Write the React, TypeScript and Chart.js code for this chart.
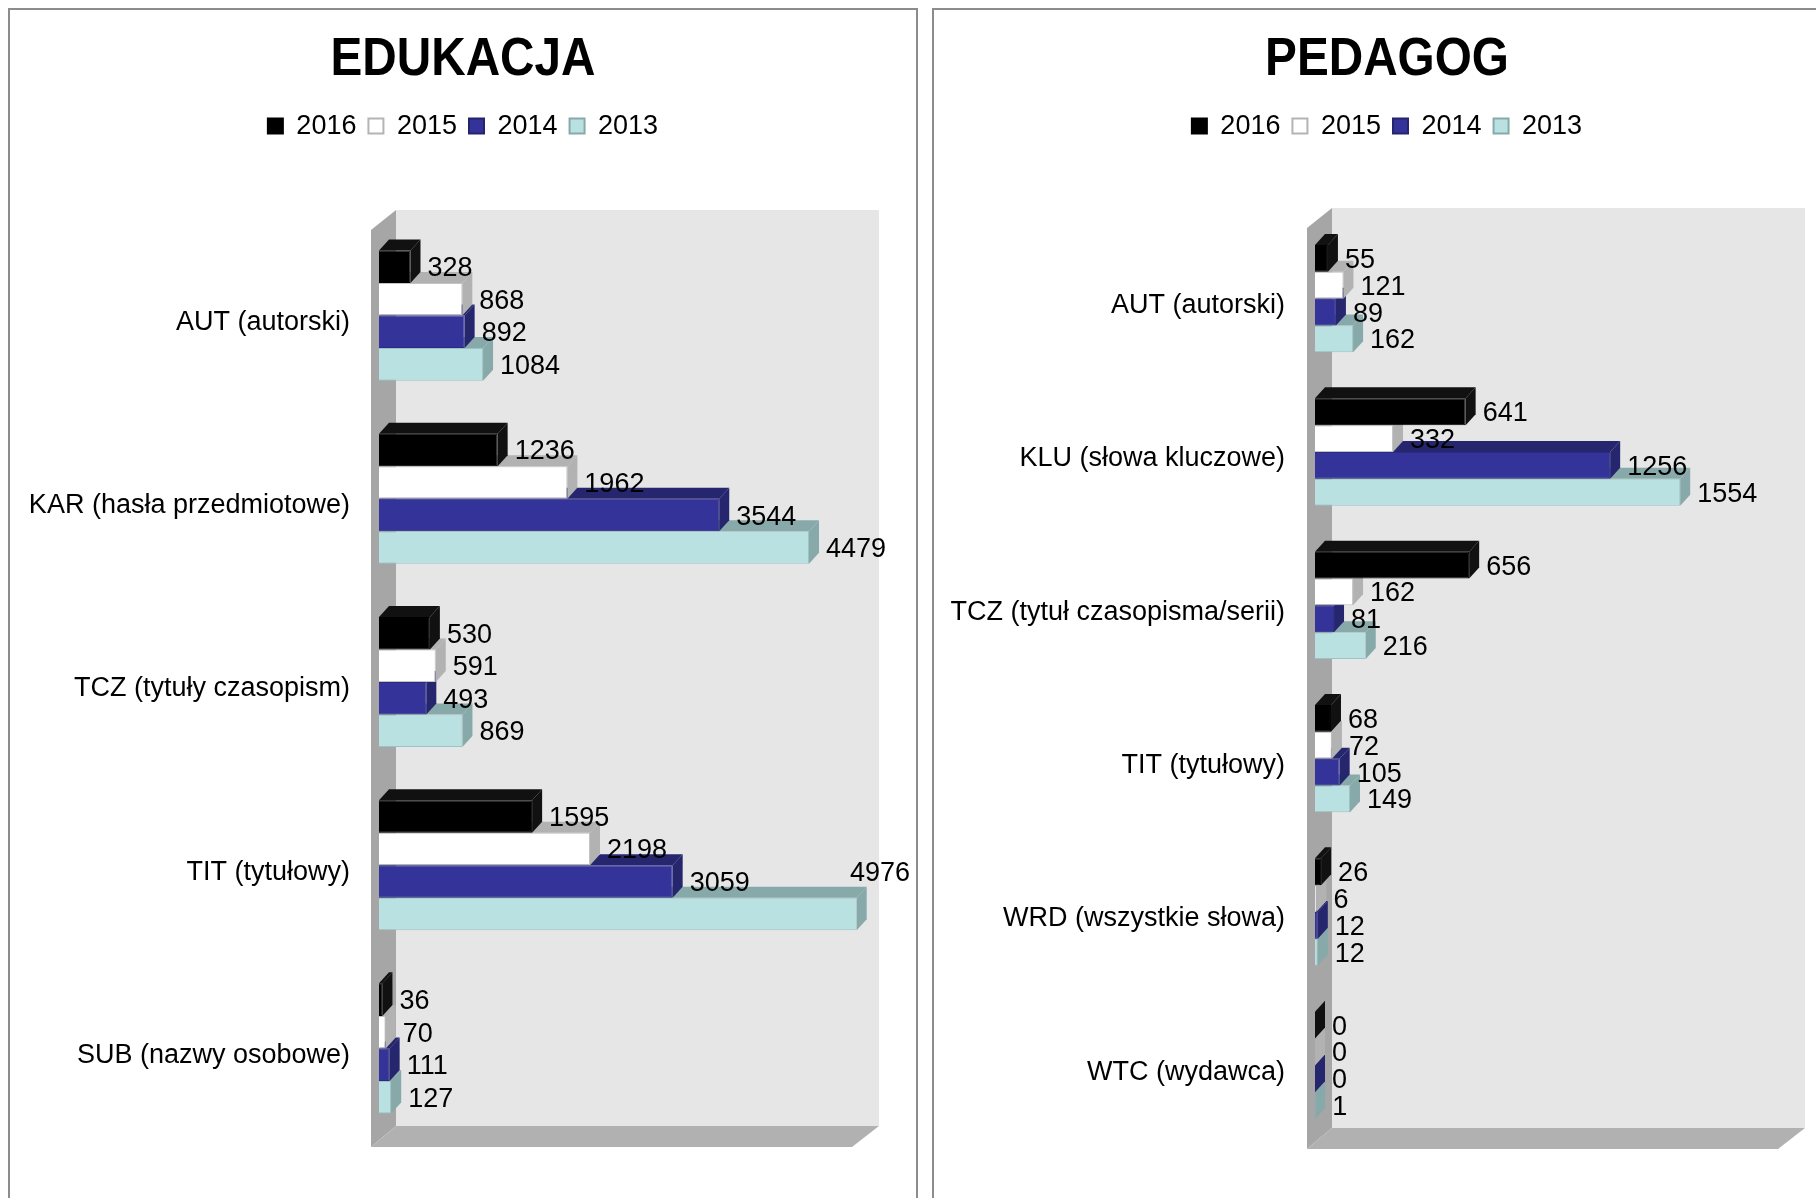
import React, { useEffect, useRef } from "react";
import { Chart, registerables } from "chart.js";

Chart.register(...registerables);

// ---------- data ----------
const seriesLabels = ["2016", "2015", "2014", "2013"];

const eduCategories = [
  "AUT (autorski)",
  "KAR (hasła przedmiotowe)",
  "TCZ (tytuły czasopism)",
  "TIT (tytułowy)",
  "SUB (nazwy osobowe)",
];
const edu2016 = [328, 1236, 530, 1595, 36];
const edu2015 = [868, 1962, 591, 2198, 70];
const edu2014 = [892, 3544, 493, 3059, 111];
const edu2013 = [1084, 4479, 869, 4976, 127];

const pedCategories = [
  "AUT (autorski)",
  "KLU (słowa kluczowe)",
  "TCZ (tytuł czasopisma/serii)",
  "TIT (tytułowy)",
  "WRD (wszystkie słowa)",
  "WTC (wydawca)",
];
const ped2016 = [55, 641, 656, 68, 26, 0];
const ped2015 = [121, 332, 162, 72, 6, 0];
const ped2014 = [89, 1256, 81, 105, 12, 0];
const ped2013 = [162, 1554, 216, 149, 12, 1];

// ---------- styles ----------
const FONT = '"Liberation Sans", Arial, Helvetica, sans-serif';
const TXT = 27;
const frontColors = ["#000000", "#ffffff", "#333399", "#b9e1e1"];
const faceColors = ["#111111", "#b2b2b2", "#26266f", "#88a9a9"];
const borderColors = ["#000000", "#c4c4c4", "#2b2b85", "#9cc3c3"];
const legendBorders = ["#000000", "#b4b4b4", "#25256e", "#88a9a9"];

const BAR_DX = 10;
const BAR_DY = 11;

const threeD = {
  id: "threeD",
  beforeDatasetsDraw(chart: any) {
    const { ctx } = chart;
    const { left: L, top: T, right: R, bottom: B } = chart.chartArea;
    const fL = L - 8, fT = T + 6, fB = B + 7, fR = R - 7;
    const bL = L + 17, bT = T - 14, bB = B - 14, bR = R + 20;
    ctx.save();
    ctx.fillStyle = "#e6e6e6";
    ctx.fillRect(bL, bT, bR - bL, bB - bT);
    ctx.fillStyle = "#a6a6a6";
    ctx.beginPath();
    ctx.moveTo(fL, fT);
    ctx.lineTo(bL, bT);
    ctx.lineTo(bL, bB);
    ctx.lineTo(fL, fB);
    ctx.closePath();
    ctx.fill();
    ctx.fillStyle = "#b1b1b1";
    ctx.beginPath();
    ctx.moveTo(fL, fB);
    ctx.lineTo(bL, bB);
    ctx.lineTo(bR, bB);
    ctx.lineTo(fR, fB);
    ctx.closePath();
    ctx.fill();
    ctx.restore();
  },
  beforeDatasetDraw(chart: any, args: any) {
    const { ctx } = chart;
    const di = args.index;
    ctx.save();
    ctx.fillStyle = faceColors[di % faceColors.length];
    args.meta.data.forEach((el: any) => {
      const { x, y, base, height } = el.getProps(["x", "y", "base", "height"], true);
      const top = y - height / 2;
      const bottom = y + height / 2;
      ctx.beginPath();
      ctx.moveTo(base, top);
      ctx.lineTo(base + BAR_DX, top - BAR_DY);
      ctx.lineTo(x + BAR_DX, top - BAR_DY);
      ctx.lineTo(x, top);
      ctx.closePath();
      ctx.fill();
      ctx.beginPath();
      ctx.moveTo(x, top);
      ctx.lineTo(x + BAR_DX, top - BAR_DY);
      ctx.lineTo(x + BAR_DX, bottom - BAR_DY);
      ctx.lineTo(x, bottom);
      ctx.closePath();
      ctx.fill();
    });
    ctx.restore();
  },
  afterDatasetsDraw(chart: any) {
    const { ctx } = chart;
    ctx.save();
    ctx.font = `${TXT}px ${FONT}`;
    ctx.fillStyle = "#000";
    ctx.textAlign = "left";
    ctx.textBaseline = "middle";
    chart.data.datasets.forEach((ds: any, di: number) => {
      const meta = chart.getDatasetMeta(di);
      meta.data.forEach((el: any, i: number) => {
        const { x, y } = el.getProps(["x", "y"], true);
        const text = String(ds.data[i]);
        const tw = ctx.measureText(text).width;
        let tx = x + BAR_DX + 7;
        let ty = y + 2;
        if (tx + tw > chart.width - 6) {
          tx = chart.width - 6 - tw;
          ty = y - 40;
        }
        ctx.fillText(text, tx, ty);
      });
    });
    ctx.restore();
  },
};

type PanelProps = {
  left: number;
  title: string;
  categories: string[];
  series: number[][];
  xMax: number;
  area: { L: number; T: number; R: number; B: number };
  tickPad: number;
  catPct: number;
};

const CW = 906;
const CH = 1188;

function BarPanel({ left, title, categories, series, xMax, area, tickPad, catPct }: PanelProps) {
  const ref = useRef<HTMLCanvasElement>(null);
  useEffect(() => {
    const pad = { left: 0, top: 0, right: 0, bottom: CH - area.B };
    const chart = new Chart(ref.current as HTMLCanvasElement, {
      type: "bar",
      data: {
        labels: categories,
        datasets: series.map((vals, i) => ({
          label: seriesLabels[i],
          data: vals,
          backgroundColor: frontColors[i],
          borderColor: borderColors[i],
          borderWidth: 1,
          categoryPercentage: catPct,
          barPercentage: 1,
        })),
      },
      options: {
        indexAxis: "y",
        responsive: false,
        animation: false,
        events: [],
        font: { family: FONT },
        layout: { padding: pad },
        scales: {
          x: { type: "linear", display: false, min: 0, max: xMax },
          y: {
            type: "category",
            grid: { display: false, drawTicks: false },
            border: { display: false },
            ticks: {
              color: "#000",
              font: { size: TXT, family: FONT },
              padding: tickPad,
              labelOffset: 7,
              autoSkip: false,
            },
            afterFit: (s: any) => {
              s.width = area.L;
            },
          },
          // empty right-hand axis that only reserves the margin on the right
          yRight: {
            type: "category",
            position: "right",
            grid: { display: false, drawTicks: false },
            border: { display: false },
            ticks: { display: false },
            afterFit: (s: any) => {
              s.width = CW - area.R;
            },
          },
        },
        plugins: {
          title: {
            display: true,
            text: title,
            color: "#000",
            font: { size: 53, weight: "bold", family: FONT },
            padding: { top: 19, bottom: 8 },
          },
          legend: {
            display: true,
            position: "top",
            labels: {
              boxWidth: 15,
              boxHeight: 15,
              padding: 12,
              color: "#000",
              font: { size: TXT, family: FONT },
              generateLabels: (c: any) =>
                c.data.datasets.map((ds: any, i: number) => ({
                  text: ds.label,
                  fillStyle: frontColors[i],
                  strokeStyle: legendBorders[i],
                  lineWidth: 2,
                  hidden: false,
                  datasetIndex: i,
                  fontColor: "#000",
                })),
            },
          },
          tooltip: { enabled: false },
        },
      } as any,
      plugins: [threeD],
    });
    // narrow (condensed) title like the original
    const tb: any = (chart as any).titleBlock;
    if (tb) {
      const origDraw = tb.draw.bind(tb);
      tb.draw = function () {
        const c = this.ctx;
        const cx = (this.left + this.right) / 2;
        c.save();
        c.translate(cx, 0);
        c.scale(0.9, 1);
        c.translate(-cx, 0);
        origDraw();
        c.restore();
      };
    }
    // add the gap below the legend so the plot area sits where it should
    const legend: any = (chart as any).legend;
    let extra = 0;
    if (legend) {
      const origFit = legend.fit.bind(legend);
      legend.fit = function () {
        origFit();
        this.height += extra;
      };
    }
    const ca = chart.chartArea;
    extra = Math.max(0, area.T - ca.top);
    (chart.options as any).layout.padding = {
      ...pad,
      bottom: pad.bottom + (ca.bottom - area.B),
    };
    chart.update();
    return () => chart.destroy();
  }, []);
  return (
    <div
      style={{
        position: "absolute",
        left,
        top: 8,
        width: CW,
        height: 1250,
        border: "2px solid #8c8c8c",
        background: "#fff",
      }}
    >
      <canvas ref={ref} width={CW} height={CH} style={{ display: "block" }} />
    </div>
  );
}

export default function App() {
  return (
    <div style={{ position: "fixed", inset: 0, overflow: "hidden", background: "#fff" }}>
      <BarPanel
        left={8}
        title="EDUKACJA"
        categories={eduCategories}
        series={[edu2016, edu2015, edu2014, edu2013]}
        xMax={5000}
        area={{ L: 369, T: 214, R: 849, B: 1130 }}
        tickPad={29}
        catPct={0.71}
      />
      <BarPanel
        left={932}
        title="PEDAGOG"
        categories={pedCategories}
        series={[ped2016, ped2015, ped2014, ped2013]}
        xMax={2000}
        area={{ L: 381, T: 212, R: 851, B: 1132 }}
        tickPad={30}
        catPct={0.7}
      />
    </div>
  );
}
